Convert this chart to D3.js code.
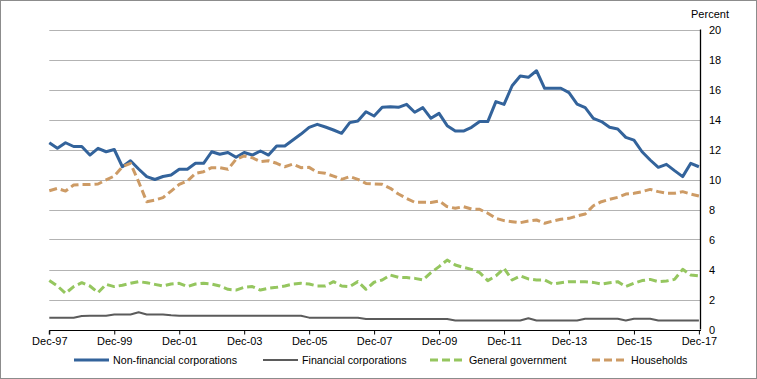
<!DOCTYPE html>
<html>
<head>
<meta charset="utf-8">
<script src="https://cdn.jsdelivr.net/npm/d3@7"></script>
<style>
  html, body { margin: 0; padding: 0; background: #fff; }
  svg { display: block; font-family: "Liberation Sans", Arial, sans-serif; }
</style>
</head>
<body>
<svg id="chart" width="757" height="379"></svg>
<script>
// Quarterly, Dec-97 .. Dec-17 (81 quarters)
const quarters = d3.range(81);
const tickLabels = ["Dec-97","Dec-99","Dec-01","Dec-03","Dec-05","Dec-07","Dec-09","Dec-11","Dec-13","Dec-15","Dec-17"];
const yTicks = [0,2,4,6,8,10,12,14,16,18,20];

const nonFinancial = [12.45,12.08,12.45,12.2,12.2,11.63,12.08,11.85,12.0,10.85,
  11.25,10.7,10.19,10.0,10.2,10.3,10.68,10.68,11.08,11.08,
  11.85,11.68,11.8,11.48,11.8,11.63,11.9,11.63,12.23,12.23,
  12.63,13.03,13.48,13.68,13.5,13.3,13.08,13.79,13.9,14.52,
  14.23,14.81,14.85,14.81,15.01,14.48,14.79,14.08,14.41,13.59,
  13.23,13.23,13.48,13.86,13.86,15.19,15.01,16.25,16.9,16.81,
  17.25,16.08,16.08,16.08,15.79,15.03,14.79,14.08,13.86,13.48,
  13.37,12.81,12.63,11.85,11.3,10.81,11.01,10.59,10.19,11.08,10.85];

const financial = [0.79,0.79,0.79,0.79,0.9,0.92,0.92,0.92,1.0,1.0,
  1.0,1.15,1.0,1.0,1.0,0.95,0.92,0.92,0.92,0.92,
  0.92,0.92,0.92,0.92,0.92,0.92,0.92,0.92,0.92,0.92,
  0.92,0.92,0.79,0.79,0.79,0.79,0.79,0.79,0.79,0.7,
  0.7,0.7,0.7,0.7,0.7,0.7,0.7,0.7,0.7,0.7,
  0.6,0.6,0.6,0.6,0.6,0.6,0.6,0.6,0.6,0.75,
  0.6,0.6,0.6,0.6,0.6,0.6,0.72,0.72,0.72,0.72,
  0.72,0.6,0.72,0.72,0.72,0.6,0.6,0.6,0.6,0.6,0.6];

const government = [3.26,2.9,2.41,2.86,3.12,2.9,2.46,3.01,2.86,2.95,
  3.08,3.19,3.12,3.01,2.9,3.03,3.08,2.86,3.03,3.08,
  3.03,2.9,2.68,2.63,2.81,2.86,2.63,2.75,2.81,2.9,
  3.03,3.08,3.03,2.9,2.9,3.19,2.9,2.86,3.19,2.68,
  3.15,3.3,3.63,3.48,3.46,3.41,3.3,3.79,4.19,4.63,
  4.3,4.14,4.01,3.79,3.26,3.57,4.08,3.3,3.57,3.37,
  3.3,3.3,3.03,3.12,3.19,3.19,3.19,3.14,3.03,3.12,
  3.19,2.86,3.08,3.26,3.34,3.19,3.23,3.34,4.01,3.63,3.57];

const households = [9.25,9.41,9.23,9.63,9.67,9.67,9.7,9.97,10.23,10.85,
  11.08,9.85,8.52,8.63,8.79,9.23,9.67,9.9,10.41,10.52,
  10.79,10.79,10.68,11.35,11.57,11.45,11.19,11.25,11.08,10.85,
  11.03,10.79,10.81,10.48,10.41,10.23,10.01,10.19,10.01,9.74,
  9.7,9.68,9.41,9.03,8.74,8.48,8.48,8.47,8.57,8.19,
  8.08,8.19,8.03,8.01,7.75,7.41,7.26,7.19,7.12,7.23,
  7.3,7.08,7.23,7.35,7.41,7.57,7.7,8.25,8.52,8.68,
  8.81,9.03,9.08,9.19,9.34,9.19,9.08,9.08,9.19,9.03,8.9];

const seriesNames = ["Non-financial corporations","Financial corporations","General government","Households"];

const series = [
  {name: seriesNames[0], values: nonFinancial, color: "#33639B", width: 3, dash: null},
  {name: seriesNames[1], values: financial, color: "#5B5B5B", width: 2, dash: null},
  {name: seriesNames[2], values: government, color: "#95C65F", width: 3, dash: "8,4"},
  {name: seriesNames[3], values: households, color: "#CD9B65", width: 3, dash: "8,4"}
];

const svg = d3.select("#chart");
const W = 757, H = 379;

// outer frame
svg.append("rect").attr("x", 0.5).attr("y", 0.5).attr("width", W - 1).attr("height", H - 1)
  .attr("fill", "#fff").attr("stroke", "#8c8c8c").attr("stroke-width", 1);

const plotLeft = 49.3, plotRight = 700, xFirst = 49.3, xLast = 698.9;
const x = d3.scalePoint().domain(quarters).range([xFirst, xLast]);
const y = d3.scaleLinear().domain([0, 20]).range([329.5, 29.5]);

// gridlines
svg.append("g").selectAll("line").data(yTicks.filter(d => d > 0)).join("line")
  .attr("x1", plotLeft).attr("x2", plotRight)
  .attr("y1", d => Math.round(y(d)) + 0.5).attr("y2", d => Math.round(y(d)) + 0.5)
  .attr("stroke", "#b3b3b3").attr("stroke-width", 1);

// right y axis
const yAxis = d3.axisRight(y).tickValues(yTicks).tickSize(0).tickPadding(9).tickFormat(d3.format("d"));
const gy = svg.append("g").attr("transform", `translate(${plotRight},0)`).call(yAxis);
gy.select(".domain").attr("stroke", "#000").attr("stroke-width", 1.3).attr("d", `M0.5,${y(20)}V${y(0)}`);
gy.selectAll("text").attr("font-size", "11px").attr("fill", "#000").attr("font-family", "Liberation Sans, Arial, sans-serif");

svg.append("text").attr("x", 710).attr("y", 17.5).attr("font-size", "11px")
  .attr("text-anchor", "middle").attr("fill", "#000").text("Percent");

// bottom x axis
const tickIdx = d3.range(0, 81, 8);
const xAxis = d3.axisBottom(x).tickValues(tickIdx).tickSize(4).tickPadding(3)
  .tickFormat((d, i) => tickLabels[i]);
const gx = svg.append("g").attr("transform", `translate(0,${Math.round(y(0)) + 0.5})`).call(xAxis);
gx.select(".domain").attr("stroke", "#000").attr("d", `M${plotLeft},4V0H${plotRight + 1}`);
gx.selectAll(".tick line").attr("stroke", "#000");
gx.selectAll("text").attr("font-size", "11px").attr("fill", "#000").attr("font-family", "Liberation Sans, Arial, sans-serif");

// lines (draw financial, government, households, then non-financial on top order as Excel: first series drawn first)
const line = d3.line().x((d, i) => x(i)).y(d => y(d));
const drawOrder = [series[0], series[1], series[2], series[3]];
svg.append("g").selectAll("path").data(drawOrder).join("path")
  .attr("d", s => line(s.values))
  .attr("fill", "none")
  .attr("stroke", s => s.color)
  .attr("stroke-width", s => s.width)
  .attr("stroke-dasharray", s => s.dash)
  .attr("stroke-linejoin", "round");

// legend
const legendX = [74, 263, 430, 592];
const lg = svg.append("g").selectAll("g").data(series).join("g")
  .attr("transform", (s, i) => `translate(${legendX[i]},360)`);
lg.append("line").attr("x1", 0).attr("x2", 35).attr("y1", 0).attr("y2", 0)
  .attr("stroke", s => s.color).attr("stroke-width", s => s.width)
  .attr("stroke-dasharray", s => s.dash);
lg.append("text").attr("x", 39).attr("y", 4).attr("font-size", "10.7px").attr("fill", "#000")
  .text(s => s.name);
</script>
</body>
</html>
